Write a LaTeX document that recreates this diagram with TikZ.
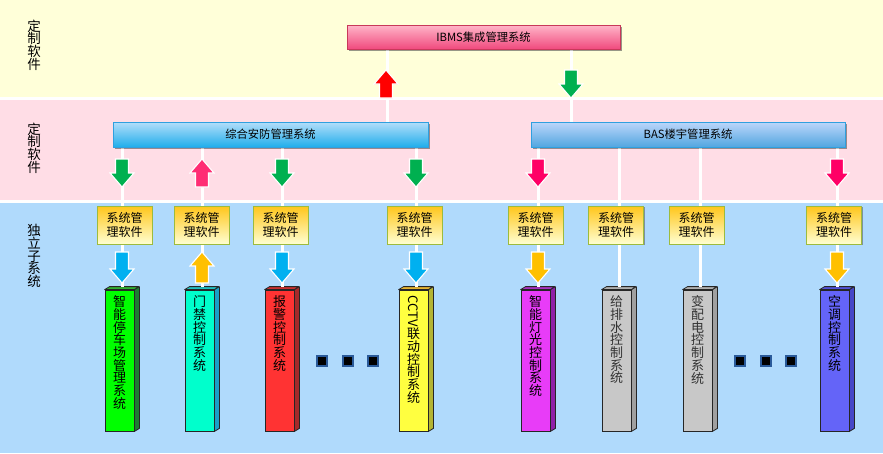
\documentclass[tikz,border=0pt]{standalone}
\usepackage{graphicx}
\usepackage{fontspec}
\setmainfont{Noto Sans CJK SC}
\usetikzlibrary{shadows}
\definecolor{bandY}{HTML}{FFFFD9}
\definecolor{bandP}{HTML}{FFDDE6}
\definecolor{bandB}{HTML}{B0DAFC}
\definecolor{ibmsT}{HTML}{FFB5C8}
\definecolor{ibmsB}{HTML}{F04A7E}
\definecolor{ibmsD}{HTML}{C8385A}
\definecolor{zhT}{HTML}{B4DEFA}
\definecolor{zhB}{HTML}{1FAEEB}
\definecolor{basT}{HTML}{BCD6FA}
\definecolor{basB}{HTML}{52A6E0}
\definecolor{boxD}{HTML}{2FA0DF}
\definecolor{swT}{HTML}{FFC61A}
\definecolor{swB}{HTML}{FFFFD2}
\definecolor{swD}{HTML}{9DBB3D}
\definecolor{greenA}{HTML}{00B050}
\definecolor{pinkA}{HTML}{FF2D74}
\definecolor{redA}{HTML}{FF0000}
\definecolor{magA}{HTML}{FF0066}
\definecolor{blueA}{HTML}{00B0F0}
\definecolor{orA}{HTML}{FFC000}
\definecolor{cAf}{HTML}{00FF00}\definecolor{cAs}{HTML}{1E7D32}\definecolor{cAt}{HTML}{30B030}
\definecolor{cBf}{HTML}{00FFCC}\definecolor{cBs}{HTML}{1AA0C8}\definecolor{cBt}{HTML}{20C0C0}
\definecolor{cCf}{HTML}{FF3333}\definecolor{cCs}{HTML}{A52A2A}\definecolor{cCt}{HTML}{C83030}
\definecolor{cDf}{HTML}{FFFF40}\definecolor{cDs}{HTML}{B4B432}\definecolor{cDt}{HTML}{E6B432}
\definecolor{cEf}{HTML}{E83CF8}\definecolor{cEs}{HTML}{9020A8}\definecolor{cEt}{HTML}{A830C0}
\definecolor{cFf}{HTML}{C8C8C8}\definecolor{cFs}{HTML}{A0A0A0}\definecolor{cFt}{HTML}{B0B0B0}
\definecolor{cGf}{HTML}{6464F8}\definecolor{cGs}{HTML}{4646C8}\definecolor{cGt}{HTML}{5050D8}
\definecolor{dotD}{HTML}{2A5A9A}
\newcommand{\mkcol}[5]{%
  \node[colfront, fill=#3] (#1) at (#2-2.5,360.5) {};
  \filldraw[colline, fill=#4] (#1.north east) -- ++(5,-3) -- ([xshift=5pt,yshift=3pt]#1.south east) -- (#1.south east) -- cycle;
  \filldraw[colline, fill=#5] (#1.north west) -- ++(5,-3) -- ++(29,0) -- (#1.north east) -- cycle;
}
\begin{document}
\begin{tikzpicture}[x=1pt,y=-1pt,
  sidelab/.style={align=center, inner sep=0pt, font=\fontsize{13.5}{12.6}\selectfont},
  mainbox/.style={draw=boxD, line width=0.8pt, minimum height=25pt, inner sep=0pt,
    font=\fontsize{11.3}{13}\selectfont,
    drop shadow={shadow xshift=1.5pt, shadow yshift=-1.5pt, opacity=0.35, fill=black!70}},
  swbox/.style={draw=swD, line width=0.8pt, top color=swT, bottom color=swB,
    minimum width=55pt, minimum height=38pt, inner sep=0pt, align=center,
    font=\fontsize{12}{14.5}\selectfont,
    drop shadow={shadow xshift=1.2pt, shadow yshift=-1.2pt, opacity=0.3, fill=black!70}},
  wline/.style={draw=white, line width=3pt},
  colfront/.style={draw=black!85, line width=0.8pt, minimum width=29pt, minimum height=141pt, inner sep=0pt},
  colline/.style={draw=black!85, line width=0.8pt, line join=round},
  coltext/.style={align=center, inner sep=0pt, font=\fontsize{13}{12.7}\selectfont},
  dotsq/.style={fill=black, draw=dotD, line width=1.2pt, minimum size=10pt, inner sep=0pt},
  blk/.style={draw=white, line width=1.1pt, line join=miter,
    drop shadow={shadow xshift=1pt, shadow yshift=-1pt, opacity=0.3, fill=black!70}},
  pics/arrdn/.style={code={\path[pic actions] (-6.5,0) -- (6.5,0) -- (6.5,#1-14) -- (12,#1-14) -- (0,#1) -- (-12,#1-14) -- (-6.5,#1-14) -- cycle;}},
  pics/arrup/.style={code={\path[pic actions] (0,0) -- (12,14) -- (6.5,14) -- (6.5,#1) -- (-6.5,#1) -- (-6.5,14) -- (-12,14) -- cycle;}},
]
\useasboundingbox (0,0) rectangle (883,453);
% bands
\fill[white] (0,0) rectangle (883,453);
\fill[bandY] (0,0) rectangle (883,97);
\fill[bandP] (0,100) rectangle (883,200);
\fill[bandB] (0,203) rectangle (883,453);
% side labels
\node[sidelab] (lab1) at (34,45) {定\\制\\软\\件};
\node[sidelab] (lab2) at (34,148) {定\\制\\软\\件};
\node[sidelab] (lab3) at (34,256) {独\\立\\子\\系\\统};
% line positions
\coordinate (u1) at (387,0);
\coordinate (u2) at (571,0);
\foreach \n/\x in {1/122,2/202,3/282,4/416,5/538,6/619,7/700,8/837} {\coordinate (c\n) at (\x,0);}
% main boxes
\path (483.5,37) node[mainbox, minimum width=273pt, minimum height=24pt, top color=ibmsT, bottom color=ibmsB, draw=ibmsD] (ibms) {IBMS集成管理系统};
\path (270.5,134.5) node[mainbox, minimum width=315pt, top color=zhT, bottom color=zhB] (zh) {综合安防管理系统};
\path (688,134.5) node[mainbox, minimum width=314pt, top color=basT, bottom color=basB] (bas) {BAS楼宇管理系统};
% software boxes
\foreach \n/\x in {1/124.5,2/201.5,3/280.5,4/414.5,5/535.5,6/616,7/696.5,8/834} {
  \node[swbox] (s\n) at (\x,225) {系统管\\理软件};
}
% columns
\mkcol{k1}{122}{cAf}{cAs}{cAt}
\mkcol{k2}{202}{cBf}{cBs}{cBt}
\mkcol{k3}{282}{cCf}{cCs}{cCt}
\mkcol{k4}{416}{cDf}{cDs}{cDt}
\mkcol{k5}{538}{cEf}{cEs}{cEt}
\mkcol{k6}{619}{cFf}{cFs}{cFt}
\mkcol{k7}{700}{cFf}{cFs}{cFt}
\mkcol{k8}{837}{cGf}{cGs}{cGt}
% white connector lines
\draw[wline] (u1 |- ibms.south) -- (u1 |- zh.north);
\draw[wline] (u2 |- ibms.south) -- (u2 |- bas.north);
\foreach \n in {1,2,3,4} {\draw[wline] (c\n |- zh.south) -- (c\n |- s\n.north);}
\foreach \n in {5,6,7,8} {\draw[wline] (c\n |- bas.south) -- (c\n |- s\n.north);}
\foreach \n in {1,...,8} {\draw[wline] (c\n |- s\n.south) -- ([yshift=3pt]c\n |- k\n.north);}
% redraw boxes on top of lines
\node[mainbox, minimum width=273pt, minimum height=24pt, top color=ibmsT, bottom color=ibmsB, draw=ibmsD] at (ibms) {IBMS集成管理系统};
\node[mainbox, minimum width=315pt, top color=zhT, bottom color=zhB] at (zh) {综合安防管理系统};
\node[mainbox, minimum width=314pt, top color=basT, bottom color=basB] at (bas) {BAS楼宇管理系统};
\foreach \n/\x in {1/124.5,2/201.5,3/280.5,4/414.5,5/535.5,6/616,7/696.5,8/834} {
  \node[swbox] at (\x,225) {系统管\\理软件};
}
% column texts
\node[coltext, anchor=north] (t1) at ([yshift=-6pt]k1.north) {智\\能\\停\\车\\场\\管\\理\\系\\统};
\node[coltext, anchor=north] (t2) at ([yshift=-6pt]k2.north) {门\\禁\\控\\制\\系\\统};
\node[coltext, anchor=north] (t3) at ([yshift=-6pt]k3.north) {报\\警\\控\\制\\系\\统};
\node[coltext, anchor=north] (t4) at ([yshift=-6pt]k4.north) {\rotatebox{-90}{CCTV}\\联\\动\\控\\制\\系\\统};
\node[coltext, anchor=north] (t5) at ([yshift=-6pt]k5.north) {智\\能\\灯\\光\\控\\制\\系\\统};
\node[coltext, anchor=north, text=black!80] (t6) at ([yshift=-6pt]k6.north) {给\\排\\水\\控\\制\\系\\统};
\node[coltext, anchor=north, text=black!80] (t7) at ([yshift=-6pt]k7.north) {变\\配\\电\\控\\制\\系\\统};
\node[coltext, anchor=north] (t8) at ([yshift=-6pt]k8.north) {空\\调\\控\\制\\系\\统};
% dots
\node[dotsq] (d1) at (322,361) {};
\node[dotsq] (d2) at (348,361) {};
\node[dotsq] (d3) at (373,361) {};
\node[dotsq] (d4) at (740,361) {};
\node[dotsq] (d5) at (766,361) {};
\node[dotsq] (d6) at (791,361) {};
% block arrows
\pic[blk, fill=redA] at (386,70) {arrup=28};
\pic[blk, fill=greenA] at (571,70) {arrdn=28};
\pic[blk, fill=greenA] at (122,159) {arrdn=28};
\pic[blk, fill=pinkA] at (202,159) {arrup=28};
\pic[blk, fill=greenA] at (282,159) {arrdn=28};
\pic[blk, fill=greenA] at (416,159) {arrdn=28};
\pic[blk, fill=magA] at (538,159) {arrdn=28};
\pic[blk, fill=magA] at (837,159) {arrdn=28};
\pic[blk, fill=blueA] at (122,252) {arrdn=31};
\pic[blk, fill=orA] at (202,252) {arrup=31};
\pic[blk, fill=blueA] at (282,252) {arrdn=31};
\pic[blk, fill=blueA] at (416,252) {arrdn=31};
\pic[blk, fill=orA] at (538,252) {arrdn=31};
\pic[blk, fill=orA] at (837,252) {arrdn=31};
\end{tikzpicture}
\end{document}
